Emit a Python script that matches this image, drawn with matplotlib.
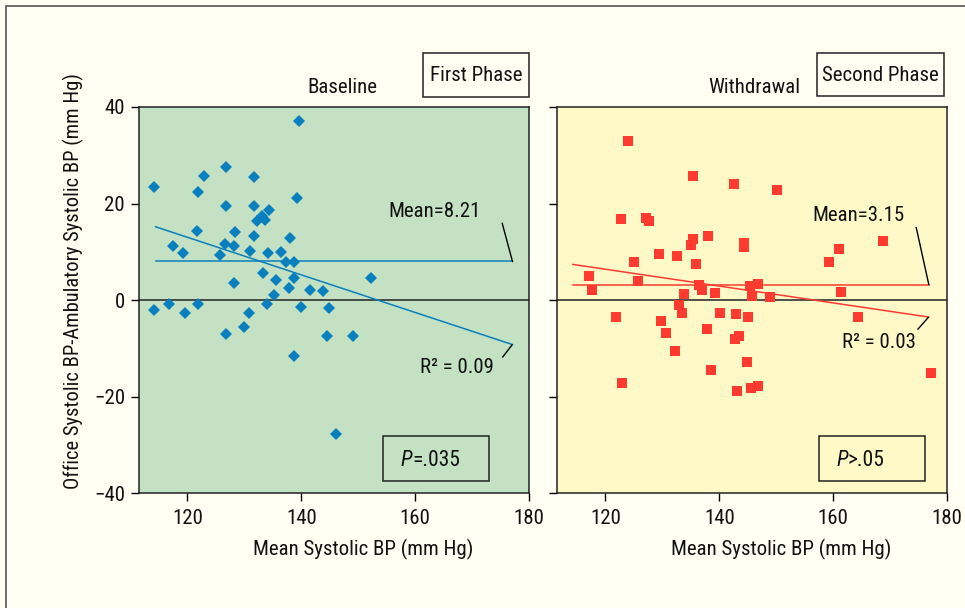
import matplotlib
matplotlib.use("Agg")
import matplotlib.pyplot as plt
from matplotlib.patches import Rectangle

# ---------------- data ----------------
baseline_x = [139.6, 114.2, 126.8, 122.9, 131.7, 121.8, 139.2, 126.7, 131.7, 134.4,
              133.1, 132.3, 133.7, 121.7, 128.3, 131.7, 138.0, 126.6, 128.1, 117.5,
              119.3, 131.0, 125.8, 134.1, 136.4, 137.3, 138.7, 133.3, 135.5, 138.8,
              152.3, 128.1, 137.9, 141.6, 143.9, 135.2, 133.9, 114.2, 116.8, 119.5,
              121.8, 130.8, 140.0, 144.8, 126.7, 130.0, 144.6, 149.0, 138.8, 146.1]
baseline_y = [37.2, 23.5, 27.6, 25.7, 25.6, 22.4, 21.1, 19.6, 19.5, 18.7,
              17.4, 16.4, 16.6, 14.3, 14.1, 13.2, 12.8, 11.7, 11.2, 11.2,
              9.8, 10.2, 9.3, 9.7, 9.9, 7.8, 7.8, 5.7, 4.1, 4.6,
              4.5, 3.6, 2.6, 2.1, 1.9, 1.0, -0.7, -2.1, -0.7, -2.6,
              -0.8, -2.6, -1.5, -1.7, -7.1, -5.5, -7.4, -7.4, -11.5, -27.8]

withdrawal_x = [123.9, 135.3, 142.6, 150.2, 122.8, 127.2, 127.6, 135.3, 138.0, 135.1,
                144.3, 144.3, 168.7, 161.0, 159.2, 125.1, 129.5, 132.5, 136.0, 117.2,
                117.6, 125.8, 136.5, 136.9, 139.2, 133.8, 145.4, 146.8, 145.7, 148.9,
                161.3, 132.9, 133.4, 121.9, 129.8, 140.1, 142.9, 145.1, 164.3, 130.6,
                137.8, 142.7, 143.5, 132.3, 144.8, 138.6, 122.9, 143.2, 145.5, 146.8,
                177.2]
withdrawal_y = [33.0, 25.8, 24.1, 22.9, 16.9, 17.0, 16.4, 12.6, 13.3, 11.4,
                11.8, 11.0, 12.3, 10.6, 7.9, 7.9, 9.6, 9.2, 7.4, 5.0,
                2.1, 4.0, 3.2, 2.1, 1.4, 1.2, 2.9, 3.3, 0.8, 0.6,
                1.7, -1.0, -2.7, -3.5, -4.4, -2.7, -2.8, -3.4, -3.5, -6.8,
                -6.0, -8.0, -7.5, -10.5, -12.9, -14.4, -17.1, -18.8, -18.1, -17.8,
                -15.1]

baseline_fit_x = [114.4, 177.1]
baseline_fit_y = [15.2, -9.2]
withdrawal_fit_x = [114.3, 176.8]
withdrawal_fit_y = [7.4, -3.5]
baseline_mean = 8.21
withdrawal_mean = 3.15
baseline_r2 = 0.09
withdrawal_r2 = 0.03

x_ticks = [120, 140, 160, 180]
y_ticks = [40, 20, 0, -20, -40]

# ---------------- style ----------------
FONT = ['Roboto Condensed', 'Archivo Narrow', 'PT Sans Narrow', 'DejaVu Sans']
plt.rcParams['font.family'] = FONT
W, H = 965, 608
BG = '#fffff4'
GREEN = '#c4e2c3'
YELLOW = '#fff9c8'
BLUE = '#0a7fbd'
RED = '#ff3b30'
TXT = '#111111'
FS = 15

fig = plt.figure(figsize=(W / 100, H / 100), dpi=100, facecolor=BG)


def fx(px):
    return px / W


def fy(py):
    return 1 - py / H


# outer border
fig.patches.append(Rectangle((fx(6), fy(640)), fx(1000) - fx(6), fy(6) - fy(640),
                             transform=fig.transFigure, fill=False,
                             edgecolor='#555555', lw=1.2))

AX_TOP, AX_BOT = 107, 493.3
panels = [
    dict(x0=139, x1=529, bg=GREEN, color=BLUE, marker='D', ms=6.3,
         xs=baseline_x, ys=baseline_y, fx_=baseline_fit_x, fy_=baseline_fit_y,
         mean=baseline_mean, r2=baseline_r2,
         mean_txt=(163.5, 18.4), mean_lead=((175.3, 15.9), (177.1, 8.0)),
         r2_txt=(167.4, -13.9), r2_lead=((175.4, -11.75), (177.0, -9.3)),
         pbox=(383.3, 436, 489.3, 480.7), p_txt='=.035', p_x=412,
         title='Baseline', title_x=342.8, phase='First Phase', phase_box=(423, 53, 529, 96.7),
         ylabels=True),
    dict(x0=557, x1=947, bg=YELLOW, color=RED, marker='s', ms=7.2,
         xs=withdrawal_x, ys=withdrawal_y, fx_=withdrawal_fit_x, fy_=withdrawal_fit_y,
         mean=withdrawal_mean, r2=withdrawal_r2,
         mean_txt=(164.5, 17.6), mean_lead=((174.6, 15.0), (176.8, 3.25)),
         r2_txt=(168.0, -8.8), r2_lead=((174.9, -6.0), (176.7, -3.6)),
         pbox=(819.3, 436, 925.3, 480.7), p_txt='>.05', p_x=848,
         title='Withdrawal', title_x=754.5, phase='Second Phase', phase_box=(817, 53, 944.3, 96),
         ylabels=False),
]

for p in panels:
    ax = fig.add_axes([fx(p['x0']), fy(AX_BOT), fx(p['x1']) - fx(p['x0']), fy(AX_TOP) - fy(AX_BOT)])
    ax.set_facecolor(p['bg'])
    ax.set_xlim(111.5, 180)
    ax.set_ylim(-40, 40)
    ax.set_xticks(x_ticks)
    ax.set_yticks(y_ticks)
    ax.tick_params(direction='out', length=6, width=1, color='black', labelsize=FS,
                   labelcolor=TXT)
    ax.tick_params(axis='x', pad=5.5)
    ax.tick_params(axis='y', pad=4)
    if not p['ylabels']:
        ax.set_yticklabels([])
    for s in ax.spines.values():
        s.set_linewidth(1.1)
        s.set_color('#222222')

    ax.axhline(0, color='#222222', lw=1.1, zorder=1)
    ax.plot([p['fx_'][0], p['fx_'][1]], [p['mean'], p['mean']], color=p['color'], lw=1.1, zorder=2)
    ax.plot(p['fx_'], p['fy_'], color=p['color'], lw=1.1, zorder=2)
    ax.plot(p['xs'], p['ys'], linestyle='none', marker=p['marker'], ms=p['ms'],
            color=p['color'], markeredgewidth=0, zorder=3)

    ax.text(*p['mean_txt'], f"Mean={p['mean']:.2f}", ha='center', va='center', fontsize=FS,
            color=TXT)
    ax.text(*p['r2_txt'], f"R\u00b2 = {p['r2']:.2f}", ha='center', va='center', fontsize=FS,
            color=TXT)
    for (a, b) in (p['mean_lead'], p['r2_lead']):
        ax.plot([a[0], b[0]], [a[1], b[1]], color='black', lw=1.0, zorder=4)

    # P box
    bx0, by0, bx1, by1 = p['pbox']
    fig.patches.append(Rectangle((fx(bx0), fy(by1)), fx(bx1) - fx(bx0), fy(by0) - fy(by1),
                                 transform=fig.transFigure, fill=False, edgecolor='#222222', lw=1.1))
    ybase = fy(466)
    fig.text(fx(p['p_x']), ybase, 'P', style='italic', ha='right', va='baseline', fontsize=FS + 0.5,
             color=TXT)
    fig.text(fx(p['p_x']), ybase, p['p_txt'], ha='left', va='baseline', fontsize=FS + 0.5, color=TXT)

    # titles
    fig.text(fx(p['title_x']), fy(93), p['title'], ha='center', va='baseline', fontsize=FS,
             color=TXT)
    qx0, qy0, qx1, qy1 = p['phase_box']
    fig.patches.append(Rectangle((fx(qx0), fy(qy1)), fx(qx1) - fx(qx0), fy(qy0) - fy(qy1),
                                 transform=fig.transFigure, fill=False, edgecolor='#222222', lw=1.1))
    fig.text(fx((qx0 + qx1) / 2), fy(80.7), p['phase'], ha='center', va='baseline', fontsize=FS,
             color=TXT)

    # x label
    fig.text(fx(p['x0'] + 224), fy(555), 'Mean Systolic BP (mm Hg)', ha='center', va='baseline',
             fontsize=FS, color=TXT)

fig.text(fx(73), fy(281), 'Office Systolic BP-Ambulatory Systolic BP (mm Hg)', rotation=90,
         ha='center', va='center', fontsize=FS - 0.2, color=TXT)

fig.savefig('out.png', dpi=100, facecolor=BG)
